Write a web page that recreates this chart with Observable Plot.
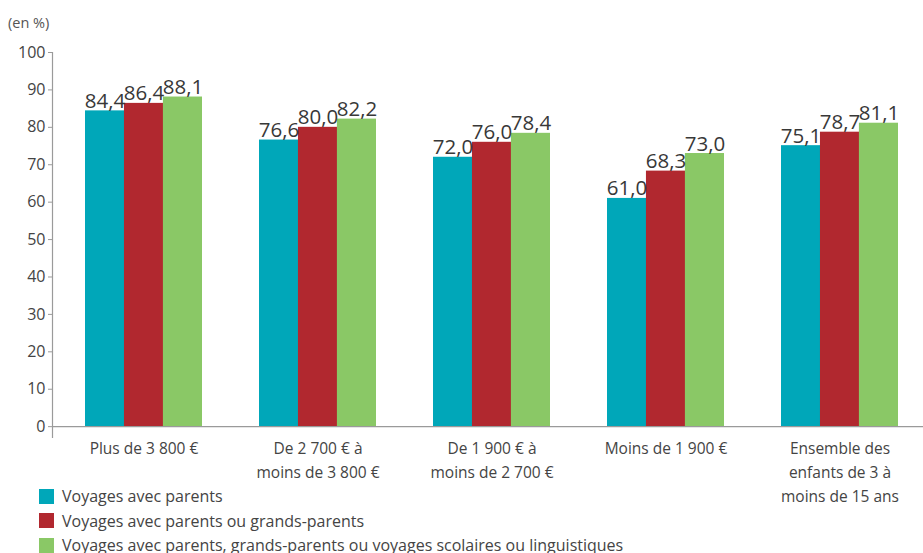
<!DOCTYPE html>
<html>
<head>
<meta charset="utf-8">
<script src="https://cdn.jsdelivr.net/npm/d3@7"></script>
<script src="https://cdn.jsdelivr.net/npm/@observablehq/plot@0.6"></script>
<style>
  html, body { margin: 0; padding: 0; background: #fff; }
  #wrap { position: relative; width: 923px; height: 553px; font-family: "Open Sans", sans-serif; overflow: hidden; }
  #unit { position: absolute; left: 8px; top: 13px; font-size: 14.5px; color: #555; }
  #legend { position: absolute; left: 39px; top: 484px; font-size: 16px; line-height: 20px; color: #444; }
  #legend .row { display: flex; align-items: center; height: 24.5px; }
  #legend .sw { width: 15px; height: 15px; margin-right: 8px; flex: none; }
  #chart { position: absolute; left: 0; top: 0; }
</style>
</head>
<body>
<div id="wrap">
  <div id="chart"></div>
  <div id="unit">(en %)</div>
  <div id="legend"></div>
</div>
<script>
const categories = [
  "Plus de 3 800 €",
  "De 2 700 € à\nmoins de 3 800 €",
  "De 1 900 € à\nmoins de 2 700 €",
  "Moins de 1 900 €",
  "Ensemble des\nenfants de 3 à\nmoins de 15 ans"
];
const seriesNames = [
  "Voyages avec parents",
  "Voyages avec parents ou grands-parents",
  "Voyages avec parents, grands-parents ou voyages scolaires ou linguistiques"
];
const voyagesParents = [84.4, 76.6, 72.0, 61.0, 75.1];
const voyagesGrandsParents = [86.4, 80.0, 76.0, 68.3, 78.7];
const voyagesScolaires = [88.1, 82.2, 78.4, 73.0, 81.1];
const colors = ["#00a7b9", "#b1282f", "#8ac866"];
const yTicks = [0, 10, 20, 30, 40, 50, 60, 70, 80, 90, 100];

const seriesValues = [voyagesParents, voyagesGrandsParents, voyagesScolaires];
const rows = seriesValues.map((vals, s) => categories.map((c, i) => ({cat: c, s, value: vals[i]})));

const xRange = [55.5, 927.5];
const padIn = 0.33, padOut = 0.165;
const step = (xRange[1] - xRange[0]) / (categories.length - padIn + 2 * padOut);
const third = step * (1 - padIn) / 3;
const fmt = d => d.value.toFixed(1).replace(".", ",");

const plot = Plot.plot({
  width: 923,
  height: 553,
  marginTop: 52,
  marginBottom: 116,
  marginLeft: 52,
  marginRight: 0,
  style: {fontFamily: "Open Sans, sans-serif", background: "transparent", color: "#444"},
  x: {domain: categories, range: xRange, paddingInner: padIn, paddingOuter: padOut, axis: null},
  y: {domain: [-2.9, 100], axis: null},
  marks: [
    ...rows.map((r, i) => Plot.barY(r, {
      x: "cat", y: "value", fill: colors[i],
      insetLeft: i * third, insetRight: (2 - i) * third
    })),
    Plot.ruleY([0], {stroke: "#9a9a9a", strokeWidth: 1.2}),
    Plot.frame({anchor: "left", stroke: "#9a9a9a", strokeWidth: 1.2}),
    Plot.axisY({ticks: yTicks, tickSize: 4, tickPadding: 3, fontSize: 16, stroke: "#9a9a9a", fill: "#444", label: null}),
    ...rows.map((r, i) => Plot.text(r, {
      x: "cat", y: "value", text: fmt, dx: (i - 1) * third, dy: -3,
      lineAnchor: "bottom", fontSize: 20.5, fill: "#383838"
    })),
    Plot.text(categories, {
      x: d => d, y: () => 0, text: d => d, dy: 10, lineAnchor: "top",
      lineHeight: 1.55, fontSize: 15.5, fill: "#444"
    })
  ]
});
document.getElementById("chart").appendChild(plot);

const legend = document.getElementById("legend");
seriesNames.forEach((name, i) => {
  const row = document.createElement("div");
  row.className = "row";
  const sw = document.createElement("span");
  sw.className = "sw";
  sw.style.background = colors[i];
  const t = document.createElement("span");
  t.textContent = name;
  row.appendChild(sw);
  row.appendChild(t);
  legend.appendChild(row);
});
</script>
</body>
</html>
